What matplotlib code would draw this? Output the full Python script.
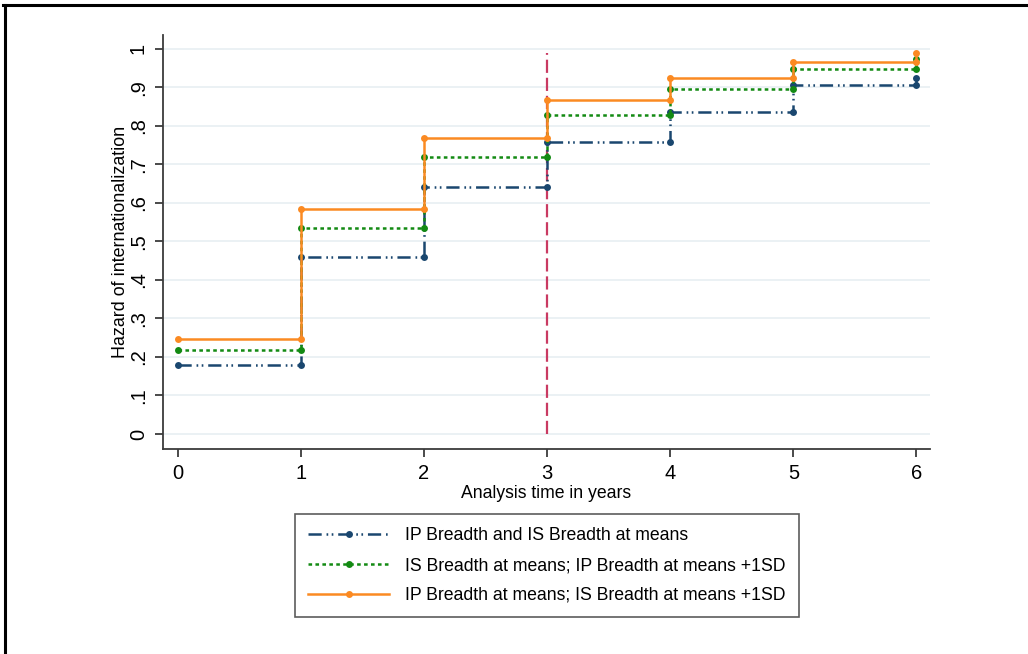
import numpy as np
import matplotlib
matplotlib.use("Agg")
import matplotlib.pyplot as plt
from matplotlib.lines import Line2D

plt.rcParams['font.family'] = ['Liberation Sans', 'DejaVu Sans']
plt.rcParams['lines.scale_dashes'] = False

# analysis time (years) and hazard level reached at each time
times = [0, 1, 2, 3, 4, 5, 6]
hz_means = [0.179, 0.459, 0.641, 0.757, 0.837, 0.906, 0.925]
hz_ip_sd = [0.219, 0.534, 0.720, 0.829, 0.896, 0.948, 0.973]
hz_is_sd = [0.247, 0.584, 0.768, 0.868, 0.925, 0.966, 0.988]
labels = ['IP Breadth and IS Breadth at means',
          'IS Breadth at means; IP Breadth at means +1SD',
          'IP Breadth at means; IS Breadth at means +1SD']
yticks = [0, .1, .2, .3, .4, .5, .6, .7, .8, .9, 1]
ytick_labels = ['0', '.1', '.2', '.3', '.4', '.5', '.6', '.7', '.8', '.9', '1']

navy = '#1a476f'
green = '#138a13'
orange = '#fb8a22'
xline_col = '#c93a62'
axis_col = '#3c3c3c'


def stairs(h):
    # stata-style J connect: value holds until the next time, then jumps
    x = np.repeat(times, 2)[1:]
    y = np.repeat(h, 2)[:-1]
    return x, y


fig = plt.figure(figsize=(10.28, 6.54), dpi=100)
ax = fig.add_axes([0.1586, 0.3135, 0.7461, 0.633])

for yv in yticks:
    ax.axhline(yv, color='#e9f0f3', lw=1.3, zorder=0)

ax.plot([3, 3], [0, 0.99], color=xline_col, lw=1.6, dashes=(9.5, 3.5), zorder=1)

styles = [
    dict(color=navy, dashes=(9.5, 3.5, 1.2, 2.5, 1.2, 3.5)),
    dict(color=green, dashes=(2.6, 2.4)),
    dict(color=orange, linestyle='-'),
]
handles = []
for h, st, lab in zip([hz_means, hz_ip_sd, hz_is_sd], styles, labels):
    x, y = stairs(h)
    ln, = ax.plot(x, y, lw=1.8, marker='o', markersize=5, markeredgewidth=0,
                  label=lab, zorder=3, **st)
    handles.append(ln)

ax.set_xlim(-0.12, 6.11)
ax.set_ylim(-0.039, 1.036)
ax.set_xticks(times)
ax.set_yticks(yticks)
ax.set_yticklabels(ytick_labels, rotation=90, va='center')
ax.tick_params(axis='both', direction='out', length=6, width=1.3,
               color=axis_col, labelsize=14.5)
ax.tick_params(axis='y', pad=5)
ax.tick_params(axis='x', pad=5)
for s in ['top', 'right']:
    ax.spines[s].set_visible(False)
for s in ['left', 'bottom']:
    ax.spines[s].set_color(axis_col)
    ax.spines[s].set_linewidth(1.3)

ax.set_xlabel('Analysis time in years', fontsize=12.7, labelpad=1)
ax.set_ylabel('Hazard of internationalization', fontsize=12.9, labelpad=-0.5)

leg = fig.legend(handles=handles, loc='center', bbox_to_anchor=(0.532, 0.1353),
                 frameon=True, fancybox=False, fontsize=12.7, handlelength=4.6,
                 handletextpad=0.9, labelspacing=0.72, borderpad=0.75,
                 numpoints=1)
leg.get_frame().set_edgecolor('#333333')
leg.get_frame().set_linewidth(1.2)

# outer frame of the exported image (top and left edges)
fig.add_artist(Line2D([0.003, 1.0], [1 - 4.5 / 654, 1 - 4.5 / 654],
                      color='black', lw=2.2, transform=fig.transFigure))
fig.add_artist(Line2D([4.5 / 1028, 4.5 / 1028], [0, 1 - 4.5 / 654],
                      color='black', lw=2.2, transform=fig.transFigure))

fig.savefig('out.png', dpi=100)
